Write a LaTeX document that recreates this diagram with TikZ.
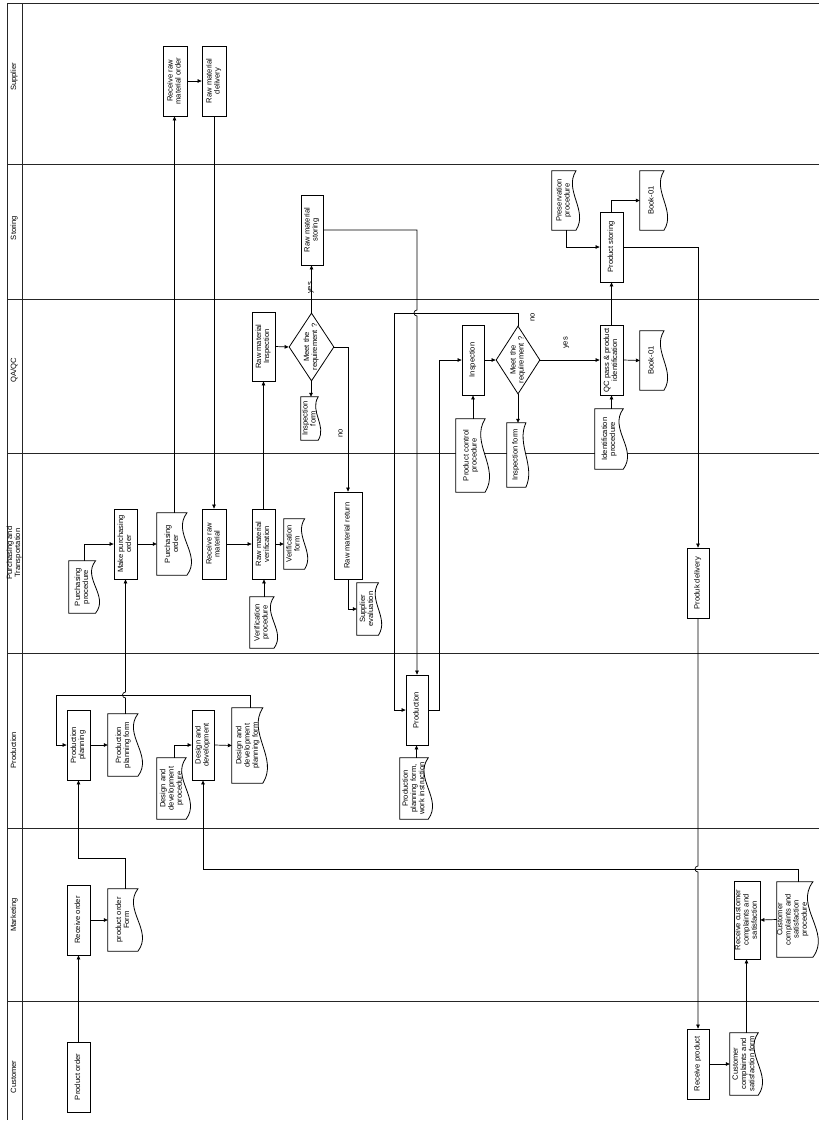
\documentclass[tikz,border=0pt]{standalone}
\usepackage{fontspec}
\setmainfont{Liberation Sans}
\usepackage{graphicx}
\usetikzlibrary{arrows.meta,shapes.geometric,calc}
\pgfdeclarelayer{background}
\pgfsetlayers{background,main}
\newcommand\tfont{\fontsize{7.6}{8.2}\selectfont}
\newcommand\rt[1]{\rotatebox{90}{\begin{tabular}{@{}c@{}}#1\end{tabular}}}
\tikzset{
  lane/.style={draw=black!85, line width=0.9pt},
  box/.style 2 args={draw, fill=white, line width=0.8pt, inner sep=0pt, minimum width=#1pt, minimum height=#2pt, font=\tfont},
  doc/.style 2 args={inner sep=0pt, minimum width=#1pt, minimum height=#2pt,
    append after command={\pgfextra{\begin{pgfinterruptpath}
      \draw[fill=white, line width=0.8pt]
        (\tikzlastnode.north west) -- ([xshift={-0.15*#1*1pt}]\tikzlastnode.north east)
        .. controls +({-0.45*#1*1pt},{-0.333*#2*1pt}) and +({0.45*#1*1pt},{0.333*#2*1pt}) ..
        ([xshift={-0.15*#1*1pt}]\tikzlastnode.south east) -- (\tikzlastnode.south west) -- cycle;
      \end{pgfinterruptpath}}}},
  dec/.style 2 args={diamond, draw, fill=white, line width=0.8pt, inner sep=0pt, minimum width=#1pt, minimum height=#2pt},
  doct/.style={xshift=-2pt},
  every label/.style={font=\tfont, inner sep=0pt},
  lbl/.style={font=\tfont, inner sep=0pt},
  conn/.style={line width=0.7pt},
  arr/.style={conn, -{Triangle[length=4pt,width=3.6pt]}},
}
\begin{document}
\begin{tikzpicture}[x=1pt,y=-1pt]
\useasboundingbox (0,0) rectangle (819,1122);
% frame and lanes
\begin{pgfonlayer}{background}
\draw[lane] (7,3) -- (819,3);
\draw[lane] (7,3) -- (7,1120);
\draw[lane] (22,3) -- (22,1120);
\foreach \yy in {164,299,453,653,828,1001} {\draw[lane] (7,\yy) -- (819,\yy);}
\end{pgfonlayer}
\node[lbl] (Lsup) at (14.5,77) {\rt{Supplier}};
\node[lbl] (Lsto) at (14.5,228) {\rt{Storing}};
\node[lbl] (Lqa) at (14.5,370) {\rt{QA/QC}};
\node[lbl] (Lpur) at (14.5,553) {\rt{Purchasing and\\Transportation}};
\node[lbl] (Lprd) at (14.5,750) {\rt{Production}};
\node[lbl] (Lmkt) at (14.5,915) {\rt{Marketing}};
\node[lbl] (Lcus) at (14.5,1077) {\rt{Customer}};

% Supplier
\node[box={24}{70}] (rrmo) at (175,81) {\rt{Receive raw\\material order}};
\node[box={24}{70}] (rmd) at (214,81) {\rt{Raw material\\delivery}};

% Storing
\node[box={22}{70}] (rms) at (312,230) {\rt{Raw material\\storing}};
\node[doc={28}{59}, label={[doct]center:{\rt{Preservation\\procedure}}}] (prp) at (566,200.5) {};
\node[box={23}{70}] (ps) at (611.5,247) {\rt{Product storing}};
\node[doc={28}{59}, label={[doct]center:{\rt{Book-01}}}] (book1) at (654,200.5) {};

% QA/QC
\node[box={23}{69}] (rmi) at (263.5,346.5) {\rt{Raw material\\Inspection}};
\node[dec={45}{68}, label={center:{\rt{Meet the\\requirement ?}}}] (d1) at (311.5,347) {};
\node[doc={20}{43}, label={[xshift=-1pt]center:{\rt{Inspection\\form}}}] (if1) at (311,418.5) {};
\node[box={22}{70}] (insp) at (473,360) {\rt{Inspection}};
\node[dec={44}{68}, label={center:{\rt{Meet the\\requirement ?}}}] (d2) at (518,360) {};
\node[box={23}{70}] (qc) at (611.5,360) {\rt{QC pass \& product\\identification}};
\node[doc={28}{59}, label={[doct]center:{\rt{Book-01}}}] (book2) at (654,360.5) {};

% Purchasing and Transportation
\node[doc={31}{52}, label={[doct]center:{\rt{Purchasing\\procedure}}}] (pup) at (84.5,587) {};
\node[box={23}{70}] (mpo) at (125.5,544) {\rt{Make purchasing\\order}};
\node[doc={35}{62}, label={[doct]center:{\rt{Purchasing\\order}}}] (pod) at (174.5,544) {};
\node[box={24}{70}] (rrm) at (214,544) {\rt{Receive raw\\material}};
\node[box={23}{70}] (rmv) at (263.5,544) {\rt{Raw material\\verification}};
\node[doc={24}{50}, label={[doct]center:{\rt{Verification\\form}}}] (vf) at (296,544) {};
\node[doc={28}{51}, label={[doct]center:{\rt{Verification\\procedure}}}] (vp) at (264,622.5) {};
\node[box={28}{87}] (rmr) at (348,535.5) {\rt{Raw material return}};
\node[doc={25}{52}, label={[doct]center:{\rt{Supplier\\evaluation}}}] (se) at (369.5,609) {};
\node[doc={34}{73}, label={[doct]center:{\rt{Product control\\procedure}}}] (pcp) at (473,455.5) {};
\node[doc={22}{64}, label={[doct]center:{\rt{Inspection form}}}] (if2) at (518,455) {};
\node[doc={33}{60}, label={[doct]center:{\rt{Identification\\procedure}}}] (idp) at (611.5,439) {};
\node[box={22}{70}] (pd) at (698,583) {\rt{Produk delivery}};

% Production
\node[box={23}{70}] (pp) at (78.5,745) {\rt{Production\\planning}};
\node[doc={35}{62}, label={[doct]center:{\rt{Production\\planning form}}}] (ppf) at (125.5,745) {};
\node[doc={34}{61}, label={[doct]center:{\rt{Design and\\development\\procedure}}}] (ddp) at (174,788.5) {};
\node[box={22}{70}] (dd) at (203,745) {\rt{Design and\\development}};
\node[doc={36}{75}, label={[doct]center:{\rt{Design and\\development\\planning form}}}] (ddpf) at (250,745.5) {};
\node[box={22}{70}] (prod) at (417,710) {\rt{Production}};
\node[doc={33}{61}, label={[doct]center:{\rt{Production\\planning form,\\work instruction}}}] (ppwi) at (416.5,788.5) {};

% Marketing
\node[box={23}{70}] (ro) at (78.5,920) {\rt{Receive order}};
\node[doc={35}{62}, label={[doct]center:{\rt{product order\\Form}}}] (pof) at (125.5,920) {};
\node[box={26}{78}] (rcc) at (747,920) {\rt{Receive customer\\complaints and\\satisfaction}};
\node[doc={42}{75}, label={[xshift=-5pt]center:{\rt{Customer\\complaints and\\satisfaction\\procedure}}}] (ccp) at (798,919.5) {};

% Customer
\node[box={23}{70}] (po) at (78.5,1077) {\rt{Product order}};
\node[box={22}{70}] (rp) at (698,1064) {\rt{Receive product}};
\node[doc={33}{62}, label={[doct]center:{\rt{Customer\\complaints and\\satisfaction form}}}] (ccf) at (746.5,1064) {};

% connectors
\draw[arr] (rrmo.east) -- (rmd.west);
\draw[arr] (pod.north) -- (pod.north |- rrmo.south);
\draw[arr] (rmd.south) -- (rmd.south |- rrm.north);
\draw[arr] (pup.north) |- (mpo.west);
\draw[arr] (mpo.east) -- (pod.west);
\draw[arr] (ppf.north) -- (125.5,698) arc[start angle=270,end angle=90,radius=3pt] -- (mpo.south);
\draw[arr] (rrm.east) -- (rmv.west);
\draw[arr] (rmv.east) -- (vf.west);
\draw[arr] (vp.north) -- (vp.north |- rmv.south);
\draw[arr] (rmv.north) -- (rmi.south);
\draw[arr] (rmi.east) -- (d1.west);
\draw[arr] (d1.north) -- (d1.north |- rms.south);
\draw[arr] (d1.south) -- (d1.south -| if1.north) -- (if1.north);
\draw[arr] (d1.east) -| (rmr.north);
\draw[arr] (rmr.south) |- (se.west);
\draw[arr] (rms.east) -- (417,230) -- (417,310) arc[start angle=90,end angle=270,radius=3pt] -- (prod.north);
\draw[arr] (prod.east) -- (439,710) |- (insp.west);
\draw[arr] (pcp.north) -- (insp.south);
\draw[arr] (insp.east) -- (d2.west);
\draw[arr] (d2.south) -- (if2.north);
\draw[arr] (d2.east) -- (qc.west);
\draw[arr] (d2.north) |- (394,313) |- (prod.west);
\draw[arr] (idp.north) -- (qc.south);
\draw[arr] (qc.east) -- (book2.west);
\draw[arr] (qc.north) -- (ps.south);
\draw[arr] (prp.south) |- (ps.west);
\draw[arr] (ps.north) |- (book1.west);
\draw[arr] (ps.east) -| (pd.north);
\draw[arr] (pd.south) -- (698,866) arc[start angle=90,end angle=270,radius=3pt] -- (rp.north);
\draw[arr] (rp.east) -- (ccf.west);
\draw[arr] (ccf.north) -- (ccf.north |- rcc.south);
\draw[arr] (ccp.west) -- (rcc.east);
\draw[arr] (ccp.north) -- (ccp.north |- 0,869) -| (dd.south);
\draw[arr] (pof.north) -- (pof.north |- 0,858) -| (pp.south);
\draw[arr] (ddp.north) |- (dd.west);
\draw[arr] (dd.east) -- (ddpf.west);
\draw[arr] (ddpf.north) -- (ddpf.north |- 0,695) -- (56,695) |- (pp.west);
\draw[arr] (pp.east) -- (ppf.west);
\draw[arr] (ppwi.north) -- (ppwi.north |- prod.south);
\draw[arr] (ro.east) -- (pof.west);
\draw[arr] (po.north) -- (ro.south);

% branch labels
\node[lbl] (yes1) at (310.5,288) {\rt{yes}};
\node[lbl] (no1) at (341,433) {\rt{no}};
\node[lbl] (no2) at (533,317) {\rt{no}};
\node[lbl] (yes2) at (566,343) {\rt{yes}};
\end{tikzpicture}
\end{document}
